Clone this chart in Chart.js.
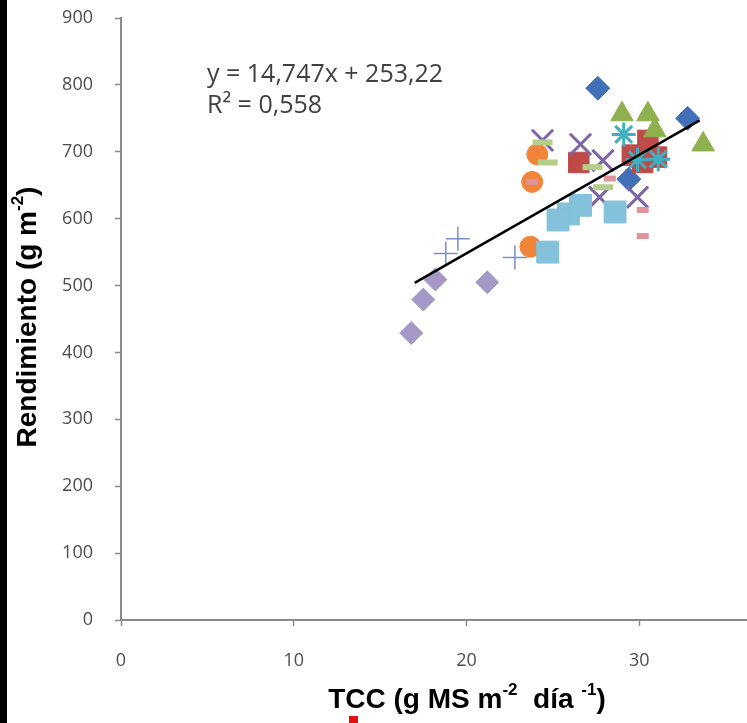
<!DOCTYPE html>
<html>
<head>
<meta charset="utf-8">
<script src="https://cdn.jsdelivr.net/npm/chart.js@4.4.0/dist/chart.umd.min.js"></script>
<style>
  html, body { margin: 0; padding: 0; background: #fff; overflow: hidden; }
  #wrap { position: relative; width: 747px; height: 723px; overflow: hidden; }
  #edge { position: absolute; left: 0; top: 0; width: 7px; height: 723px; background: #000; }
  canvas { position: absolute; left: 0; top: 0; }
</style>
</head>
<body>
<div id="wrap">
  <canvas id="chart" width="830" height="723"></canvas>
  <div id="edge"></div>
</div>
<script>
// axis ticks
const xTicks = [0, 10, 20, 30, 40];
const yTicks = [0, 100, 200, 300, 400, 500, 600, 700, 800, 900];

// series (TCC, Rendimiento)
const blueDiamondX = [27.6, 32.8, 29.4];
const blueDiamondY = [795, 750, 659];
const redSquareX = [26.5, 29.6, 30.5, 31.0, 30.2];
const redSquareY = [684, 695, 717, 692, 684];
const greenTriangleX = [29.0, 30.5, 30.9, 33.7];
const greenTriangleY = [756, 756, 732, 711];
const purpleCrossX = [26.6, 27.9, 29.9, 27.7, 24.4];
const purpleCrossY = [711, 687, 632, 632, 717];
const cyanStarX = [29.1, 31.1, 29.9];
const cyanStarY = [726, 689, 688];
const orangeCircleX = [24.1, 23.8, 23.7];
const orangeCircleY = [696, 655, 558];
const lightBlueSquareX = [26.6, 25.9, 25.3, 28.6, 24.7];
const lightBlueSquareY = [620, 607, 598, 610, 550];
const lilacDiamondX = [18.2, 17.5, 16.8, 21.2];
const lilacDiamondY = [509, 479, 429, 505];
const bluePlusX = [19.5, 18.8, 22.8];
const bluePlusY = [570, 548, 542];
const pinkDashX = [28.3, 30.2, 30.2, 23.8];
const pinkDashY = [660, 613, 574, 655];
const greenDashX = [27.3, 27.9, 24.7, 24.4];
const greenDashY = [677, 647, 684, 714];

// trend line ends (y = 14,747x + 253,22)
const trendX = [17.0, 33.5];
const trendY = [504, 747];

const pts = (xs, ys) => xs.map((x, i) => ({ x: x, y: ys[i] }));

const series = [
    { data: pts(blueDiamondX, blueDiamondY), style: 'rectRot', r: 12, color: '#4270B8', bw: 1 },
    { data: pts(redSquareX, redSquareY), style: 'rect', r: 14.5, color: '#BE4B48', bw: 1 },
    { data: pts(greenTriangleX, greenTriangleY), style: 'triangle', r: 13, color: '#8FB04E', bw: 1 },
    { data: pts(purpleCrossX, purpleCrossY), style: 'crossRot', r: 15, color: '#7B65A3', bw: 3 },
    { data: pts(cyanStarX, cyanStarY), style: 'star', r: 12, color: '#3FAFC2', bw: 3 },
    { data: pts(orangeCircleX, orangeCircleY), style: 'circle', r: 10.5, color: '#F0853A', bw: 1 },
    { data: pts(lightBlueSquareX, lightBlueSquareY), style: 'rect', r: 15.5, color: '#84C1DA', bw: 1 },
    { data: pts(lilacDiamondX, lilacDiamondY), style: 'rectRot', r: 11.5, color: '#A597C6', bw: 1 },
    { data: pts(bluePlusX, bluePlusY), style: 'cross', r: 12, color: '#7A8ECB', bw: 1.5 },
    { data: pts(pinkDashX, pinkDashY), style: 'line', r: 6, color: '#DE9499', bw: 6 },
    { data: pts(greenDashX, greenDashY), style: 'line', r: 10, color: '#B5CF8A', bw: 6 }
];

const datasets = series.map((s, i) => ({
    type: 'scatter',
    data: s.data,
    pointStyle: s.style,
    pointRadius: s.r,
    backgroundColor: s.color,
    borderColor: s.color,
    borderWidth: s.bw,
    order: 20 - i
}));

datasets.push({
    type: 'line',
    data: pts(trendX, trendY),
    borderColor: '#000',
    borderWidth: 2.5,
    pointRadius: 0,
    fill: false,
    order: 0
});

// draw text with superscript parts, centred on (cx, cy)
function drawRich(ctx, parts, size, cx, cy) {
    const main = 'bold ' + size + 'px "Liberation Sans", Arial, sans-serif';
    const sup = 'bold ' + Math.round(size * 0.6) + 'px "Liberation Sans", Arial, sans-serif';
    let w = 0;
    parts.forEach(p => { ctx.font = p[1] ? sup : main; w += ctx.measureText(p[0]).width; });
    let x = cx - w / 2;
    ctx.textAlign = 'left';
    ctx.textBaseline = 'middle';
    parts.forEach(p => {
        ctx.font = p[1] ? sup : main;
        ctx.fillText(p[0], x, p[1] ? cy - size * 0.33 : cy);
        x += ctx.measureText(p[0]).width;
    });
}

const textPlugin = {
    id: 'texts',
    afterDraw(chart) {
        const ctx = chart.ctx;
        ctx.save();
        ctx.fillStyle = '#000';
        drawRich(ctx, [['TCC (g MS m', false], ['-2', true], ['  día ', false], ['-1', true], [')', false]], 28, 467, 700);
        ctx.save();
        ctx.translate(28, 317);
        ctx.rotate(-Math.PI / 2);
        drawRich(ctx, [['Rendimiento (g m', false], ['-2', true], [')', false]], 28, 0, 0);
        ctx.restore();

        ctx.fillStyle = '#404040';
        ctx.font = '25px "Open Sans", sans-serif';
        ctx.textAlign = 'left';
        ctx.textBaseline = 'alphabetic';
        ctx.fillText('y = 14,747x + 253,22', 207, 82);
        ctx.fillText('R² = 0,558', 207, 113);

        ctx.fillStyle = '#E01010';
        ctx.fillRect(349, 716, 9, 7);
        ctx.restore();
    }
};

const axisColor = '#8A8A8A';
const tickFont = { family: '"Open Sans", sans-serif', size: 18 };

new Chart(document.getElementById('chart'), {
    data: { datasets: datasets },
    options: {
        responsive: false,
        animation: false,
        events: [],
        layout: { padding: { top: 15, right: 17, left: 0, bottom: 0 } },
        plugins: { legend: { display: false }, tooltip: { enabled: false } },
        scales: {
            x: {
                type: 'linear',
                min: xTicks[0],
                max: xTicks[xTicks.length - 1],
                afterBuildTicks: s => { s.ticks = xTicks.map(v => ({ value: v })); },
                afterFit: s => { s.height = 103; s.paddingLeft = 0; s.paddingRight = 0; },
                ticks: { color: '#4D4D4D', font: tickFont, padding: 24, maxRotation: 0 },
                grid: { drawOnChartArea: false, color: axisColor, tickLength: 6, tickWidth: 1.5 },
                border: { color: axisColor, width: 2 }
            },
            y: {
                type: 'linear',
                min: yTicks[0],
                max: yTicks[yTicks.length - 1],
                afterBuildTicks: s => { s.ticks = yTicks.map(v => ({ value: v })); },
                afterFit: s => { s.width = 121; s.paddingTop = 0; s.paddingBottom = 0; },
                ticks: { color: '#4D4D4D', font: tickFont, padding: 22 },
                grid: { drawOnChartArea: false, color: axisColor, tickLength: 6, tickWidth: 1.5 },
                border: { color: axisColor, width: 2 }
            }
        }
    },
    plugins: [textPlugin]
});
</script>
</body>
</html>
